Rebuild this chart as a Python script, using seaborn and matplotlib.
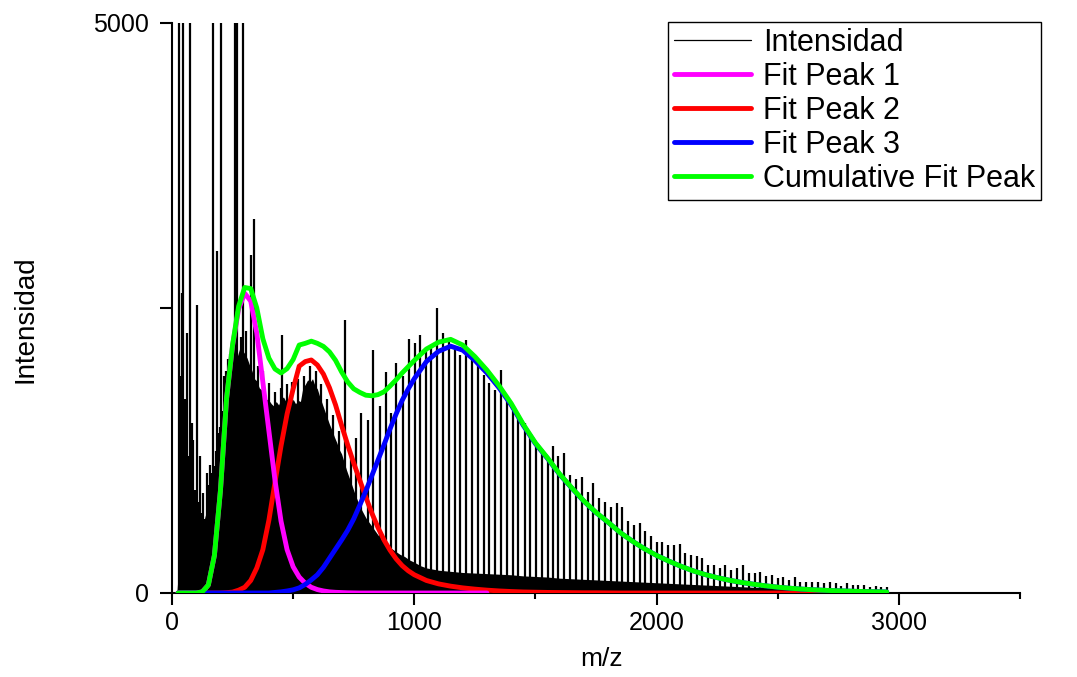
import numpy as np
import pandas as pd
import matplotlib
matplotlib.use("Agg")
import matplotlib.pyplot as plt
from matplotlib.lines import Line2D
import seaborn as sns

# ---------------- data ----------------
# continuum of the mass spectrum (dense, solid-black region): m/z and top intensity
cont_mz = [20, 25, 30, 40, 50, 60, 70, 80, 90, 100, 110, 120, 130, 140, 150, 160, 170, 180, 190,
           200, 210, 220, 230, 240, 250, 260, 270, 280, 290, 300, 310, 320, 330, 340, 350, 360,
           370, 380, 390, 400, 410, 420, 430, 440, 450, 460, 470, 480, 490, 500, 510, 520, 530,
           540, 550, 560, 570, 580, 590, 600, 610, 620, 630, 640, 650, 660, 670, 680, 690, 700,
           710, 720, 730, 740, 750, 760, 770, 780, 790, 800, 810, 820, 830, 840, 850, 860, 870,
           880, 890, 900, 920, 940, 960, 980, 1000, 1025, 1050, 1075, 1100, 1150, 1200, 1250,
           1300, 1350, 1400, 1450, 1500, 1550, 1600, 1650, 1700, 1750, 1800, 1850, 1900, 1950,
           2000, 2100, 2200, 2300, 2400, 2500, 2600, 2700, 2800, 2900, 2960]
cont_int = [0, 150, 250, 300, 350, 420, 480, 560, 600, 520, 600, 560, 620, 700, 900, 1000, 950,
            1100, 1300, 1450, 1600, 1780, 1900, 1980, 2050, 2100, 2080, 2150, 2130, 2100, 2060,
            2000, 1950, 1880, 1860, 1800, 1780, 1720, 1700, 1690, 1660, 1640, 1680, 1650, 1700,
            1720, 1680, 1680, 1640, 1700, 1660, 1690, 1680, 1800, 1830, 1870, 1850, 1880, 1820,
            1790, 1720, 1660, 1600, 1540, 1480, 1430, 1370, 1320, 1260, 1220, 1150, 1080, 1020,
            960, 900, 840, 790, 740, 700, 660, 630, 600, 570, 540, 510, 480, 460, 440, 420, 400,
            370, 340, 320, 290, 270, 240, 220, 210, 200, 190, 180, 175, 170, 165, 160, 150, 145,
            140, 130, 125, 120, 115, 110, 105, 100, 95, 90, 80, 70, 60, 50, 45, 40, 35, 30, 25, 0]

# individual spectral lines (m/z, intensity); lines beyond 5000 run off the axis
peak_mz = [30, 35, 40, 47, 52, 60, 66, 74, 81, 88, 95, 102, 108, 115, 122, 129, 135, 143, 150,
           156, 162, 168, 177, 182, 187, 192, 198, 201, 208, 215, 222, 232, 240, 250, 260, 270,
           283, 291, 305, 324, 338, 353, 377, 401, 425, 449, 455, 473, 497, 521, 545, 569, 593,
           617, 641, 665, 689, 713, 737, 758, 781, 809, 830, 857, 882, 905, 926, 953, 977, 1001,
           1025, 1047, 1070, 1095, 1118, 1143, 1166, 1189, 1214, 1237, 1262, 1286, 1310, 1334,
           1358, 1382, 1406, 1430, 1455, 1478, 1503, 1526, 1551, 1571, 1595, 1619, 1643, 1667,
           1691, 1715, 1739, 1764, 1787, 1812, 1835, 1858, 1883, 1906, 1930, 1953, 1978, 2001,
           2024, 2048, 2073, 2096, 2119, 2143, 2166, 2189, 2214, 2237, 2261, 2284, 2309, 2333,
           2358, 2382, 2405, 2428, 2453, 2475, 2500, 2523, 2546, 2571, 2594, 2618, 2643, 2666,
           2691, 2714, 2739, 2762, 2787, 2810, 2833, 2857, 2880, 2905, 2928, 2952]
peak_int = [8000, 1900, 2630, 8000, 1700, 2280, 1200, 8000, 1490, 1340, 900, 2526, 800, 1200,
            700, 880, 650, 1050, 950, 1120, 1050, 8000, 1110, 1250, 3000, 1400, 1460, 8000, 1600,
            1900, 1950, 2050, 2100, 2200, 8000, 8000, 2250, 8000, 2300, 2965, 3280, 1990, 1950,
            1840, 1760, 1800, 2263, 1830, 1850, 1880, 1900, 1990, 1950, 1830, 1700, 1560, 1420,
            2395, 1200, 1357, 1575, 1520, 2130, 1640, 1940, 1580, 2015, 1900, 2228, 2190, 2263,
            2134, 2163, 2497, 2277, 2222, 2149, 2090, 2222, 2090, 2030, 1915, 1842, 1784, 1959,
            1725, 1594, 1564, 1491, 1404, 1316, 1258, 1170, 1287, 1199, 1228, 1038, 1000, 1020,
            889, 962, 830, 794, 753, 788, 753, 629, 599, 614, 547, 497, 444, 444, 418, 424, 430,
            351, 336, 322, 307, 249, 249, 219, 249, 205, 219, 246, 178, 172, 187, 149, 158, 129,
            143, 114, 137, 99, 99, 94, 99, 85, 99, 90, 61, 85, 70, 70, 70, 55, 61, 55, 55]

# fitted peaks sampled along m/z
fit_mz = np.concatenate([np.arange(25, 1001, 25), np.arange(1050, 2951, 50)])
fit_peak1 = [0, 0, 0, 0, 10, 70, 330, 900, 1700, 2170, 2490, 2630, 2560, 2280, 1850, 1420, 990,
             630, 380, 230, 140, 85, 50, 30, 18, 10, 6, 4, 2, 1, 0, 0, 0, 0, 0, 0, 0, 0, 0, 0,
             0, 0, 0, 0, 0, 0, 0, 0, 0, 0, 0, 0, 0, 0, 0, 0, 0, 0, 0, 0, 0, 0, 0, 0, 0, 0, 0, 0,
             0, 0, 0, 0, 0, 0, 0, 0, 0, 0, 0]
fit_peak2 = [0, 0, 0, 0, 0, 0, 0, 0, 3, 8, 25, 50, 110, 220, 380, 640, 970, 1290, 1570, 1790,
             1990, 2030, 2044, 2000, 1920, 1800, 1650, 1470, 1300, 1140, 990, 840, 700, 575, 465,
             375, 300, 240, 195, 160, 110, 80, 60, 45, 34, 25, 18, 13, 9, 7, 5, 4, 3, 2, 2, 1,
             0, 0, 0, 0, 0, 0, 0, 0, 0, 0, 0, 0, 0, 0, 0, 0, 0, 0, 0, 0, 0, 0, 0]
fit_peak3 = [0, 0, 0, 0, 0, 0, 0, 0, 0, 0, 0, 0, 0, 0, 0, 0, 5, 10, 18, 28, 45, 75, 115, 160, 225,
             305, 385, 465, 550, 650, 770, 895, 1030, 1165, 1300, 1440, 1570, 1690, 1790, 1880,
             2030, 2120, 2165, 2130, 2040, 1930, 1800, 1650, 1470, 1310, 1180, 1040, 920, 805,
             705, 620, 530, 455, 388, 330, 280, 235, 195, 162, 135, 112, 93, 77, 63, 51, 42, 34,
             28, 23, 19, 16, 13, 11, 9]

x_ticks = [0, 500, 1000, 1500, 2000, 2500, 3000, 3500]
x_ticklabels = ["0", "", "1000", "", "2000", "", "3000", ""]
y_ticks = [0, 2500, 5000]
y_ticklabels = ["0", "", "5000"]

series_names = ["Fit Peak 2", "Fit Peak 1", "Fit Peak 3", "Cumulative Fit Peak"]
series_colors = {"Fit Peak 1": "#FF00FF", "Fit Peak 2": "#FF0000",
                 "Fit Peak 3": "#0000FF", "Cumulative Fit Peak": "#00FF00"}

# ---------------- figure ----------------
sns.set_theme(style="ticks")
plt.rcParams["font.family"] = ["Liberation Sans", "DejaVu Sans"]

fig = plt.figure(figsize=(10.77, 6.77), dpi=100)
ax = fig.add_axes([172 / 1077, 1 - 593 / 677, 848 / 1077, 570 / 677])

# spectrum
ax.fill_between(cont_mz, 0, cont_int, color="black", lw=0, zorder=1)
ax.vlines(peak_mz, 0, peak_int, color="black", lw=1.6, zorder=1)

# fits
p1 = np.array(fit_peak1, float)
p2 = np.array(fit_peak2, float)
p3 = np.array(fit_peak3, float)
cum = p1 + p2 + p3
frames = []
for name, vals in [("Fit Peak 2", p2), ("Fit Peak 1", p1), ("Fit Peak 3", p3),
                   ("Cumulative Fit Peak", cum)]:
    d = pd.DataFrame({"mz": fit_mz, "val": vals, "series": name})
    if name == "Fit Peak 1":
        d = d[d["mz"] <= 1300]
    frames.append(d)
df = pd.concat(frames, ignore_index=True)

sns.lineplot(data=df, x="mz", y="val", hue="series", hue_order=series_names,
             palette=series_colors, lw=3.5, legend=False, estimator=None, sort=False,
             ax=ax, zorder=3)

ax.set_xlim(0, 3500)
ax.set_ylim(0, 5000)
ax.set_xticks(x_ticks)
ax.set_xticklabels(x_ticklabels)
ax.set_yticks(y_ticks)
ax.set_yticklabels(y_ticklabels)
ax.tick_params(axis="both", direction="out", length=8.6, width=1.5, labelsize=18,
               color="black", labelcolor="black")
ax.tick_params(axis="y", pad=8)
ax.tick_params(axis="x", pad=4)
# shorter marks for the unlabeled x ticks
for t, lab in zip(ax.xaxis.get_major_ticks(), x_ticklabels):
    if lab == "":
        t.tick1line.set_markersize(4)

for s in ["top", "right"]:
    ax.spines[s].set_visible(False)
for s in ["left", "bottom"]:
    ax.spines[s].set_color("black")
    ax.spines[s].set_linewidth(1.5)
ax.set_facecolor("white")

ax.set_xlabel("m/z", fontsize=19, color="black")
ax.set_ylabel("Intensidad", fontsize=20, color="black")
ax.xaxis.set_label_coords(0.507, -0.095)
ax.yaxis.set_label_coords(-0.157, 0.481)

handles = [Line2D([], [], color="black", lw=0.9)]
labels = ["Intensidad"]
for name in ["Fit Peak 1", "Fit Peak 2", "Fit Peak 3", "Cumulative Fit Peak"]:
    handles.append(Line2D([], [], color=series_colors[name], lw=3.5))
    labels.append(name)
leg = ax.legend(handles, labels, loc="upper left",
                bbox_to_anchor=(668 / 1077, 1 - 22 / 677), bbox_transform=fig.transFigure,
                fontsize=22, frameon=True, fancybox=False, framealpha=1, edgecolor="black",
                borderpad=0.2, handlelength=2.5, handletextpad=0.4, labelspacing=0.13,
                borderaxespad=0)
leg.get_frame().set_linewidth(1.0)
for txt in leg.get_texts():
    txt.set_color("black")

fig.savefig("out.png", dpi=100, facecolor="white")
